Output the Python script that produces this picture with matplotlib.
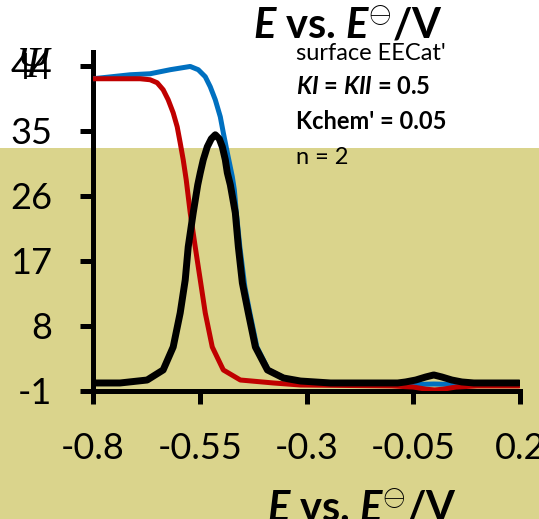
import matplotlib
matplotlib.use("Agg")
import matplotlib.pyplot as plt
from matplotlib.patches import Rectangle

plt.rcParams["font.family"] = ["Lato", "DejaVu Sans"]
plt.rcParams["axes.unicode_minus"] = False
plt.rcParams["mathtext.fontset"] = "custom"
plt.rcParams["mathtext.rm"] = "Lato"
plt.rcParams["mathtext.bf"] = "Lato:bold"
plt.rcParams["mathtext.it"] = "Lato:italic"
plt.rcParams["mathtext.bfit"] = "Lato:bold:italic"

# potential E vs E0 / V and dimensionless current psi
e_blue = [-0.8, -0.7131, -0.6662, -0.6192, -0.5723, -0.5535, -0.5371, -0.5254,
          -0.5136, -0.5019, -0.4948, -0.4854, -0.4737, -0.4690, -0.4643, -0.4561,
          -0.4444, -0.4326, -0.4162, -0.3892, -0.3516, -0.3117, -0.2437, -0.0864,
          -0.0019, 0.0920, 0.1977]
psi_blue = [42.20, 42.75, 42.89, 43.45, 43.90, 43.45, 42.48, 41.09,
            39.29, 36.94, 34.72, 31.95, 28.63, 26.83, 23.65, 18.94,
            13.40, 9.80, 5.09, 1.91, 0.80, 0.25, -0.03, -0.17,
            -0.03, -0.17, -0.17]

e_red = [-0.8, -0.6897, -0.6662, -0.6498, -0.6357, -0.6239, -0.6122, -0.6028,
         -0.5958, -0.5887, -0.5817, -0.5723, -0.5606, -0.5488, -0.5371, -0.5207,
         -0.4948, -0.4549, -0.3775, -0.3141, -0.1, -0.05, -0.02, 0.0,
         0.02, 0.05, 0.1, 0.1977]
psi_red = [42.20, 42.20, 42.06, 41.65, 40.68, 39.29, 37.49, 35.55,
           33.34, 30.98, 28.22, 23.65, 18.94, 14.37, 9.80, 5.09,
           1.91, 0.52, 0.11, -0.17, -0.3, -0.45, -0.75, -0.85,
           -0.75, -0.45, -0.3, -0.3]

e_black = [-0.8, -0.7366, -0.6732, -0.6357, -0.6122, -0.5958, -0.5840, -0.5770,
           -0.5653, -0.5547, -0.5488, -0.5418, -0.5324, -0.5230, -0.5136, -0.5042,
           -0.4972, -0.4901, -0.4854, -0.4784, -0.4667, -0.4596, -0.4502, -0.4362,
           -0.4197, -0.3915, -0.3540, -0.3141, -0.2437, -0.0864, -0.068, -0.0441,
           -0.0207, -0.0019, 0.0169, 0.0404, 0.0638, 0.0920, 0.1977]
psi_black = [0.11, 0.11, 0.52, 1.91, 5.09, 9.80, 14.37, 18.94,
             23.65, 27.52, 29.18, 30.98, 32.78, 33.89, 34.45, 33.89,
             32.78, 30.98, 29.18, 27.52, 23.65, 18.94, 13.95, 9.80,
             5.09, 1.91, 0.80, 0.38, 0.11, 0.11, 0.25, 0.52,
             0.94, 1.22, 0.94, 0.52, 0.25, 0.11, 0.11]

xticks = [-0.8, -0.55, -0.3, -0.05, 0.2]
xtick_labels = ["-0.8", "-0.55", "-0.3", "-0.05", "0.2"]
yticks = [-1, 8, 17, 26, 35, 44]
ytick_labels = ["-1", "8", "17", "26", "35", "44"]

notes = ["surface EECat'", r"$\mathbfit{KI}$ = $\mathbfit{KII}$ = 0.5", "Kchem' = 0.05", "n = 2"]
note_weights = ["normal", "bold", "bold", "normal"]

W, H = 539, 519
fig = plt.figure(figsize=(W / 100, H / 100), dpi=100, facecolor="#dad48c")
# white band at top, behind everything
fig.patches.append(Rectangle((0, 1 - 148 / H), 1, 148 / H, transform=fig.transFigure,
                             facecolor="white", edgecolor="none", zorder=-10))

ax = fig.add_axes([93 / W, 1 - 391 / H, (520 - 93) / W, (391 - 52) / H])
ax.set_facecolor("none")
ax.plot(e_blue, psi_blue, color="#0070c0", lw=3.6, solid_capstyle="round",
        solid_joinstyle="round", zorder=3)
ax.plot(e_red, psi_red, color="#c00000", lw=3.6, solid_capstyle="round",
        solid_joinstyle="round", zorder=4)
ax.plot(e_black, psi_black, color="black", lw=5, solid_capstyle="round",
        solid_joinstyle="round", zorder=5)

ax.set_xlim(-0.8, 0.2)
ax.set_ylim(-1, 45.9)
ax.set_xticks(xticks)
ax.set_xticklabels(xtick_labels)
ax.set_yticks(yticks)
ax.set_yticklabels(ytick_labels)
for s in ["top", "right"]:
    ax.spines[s].set_visible(False)
for s in ["left", "bottom"]:
    ax.spines[s].set_linewidth(3.6)
ax.tick_params(axis="both", direction="out", length=9.5, width=3.6, labelsize=26, pad=20)

# y label sits on top of the highest tick label
fig.text(32 / W, 1 - 66 / H, "Ψ", family="Liberation Serif", style="italic",
         fontsize=32, ha="center", va="center")

title = r"$\mathbfit{E}$ vs. $\mathbfit{E}^{\mathbf{\ominus}}$/V"
fig.text(348 / W, 1 - 38 / H, title, fontsize=30, fontweight="bold",
         ha="center", va="baseline")
fig.text(362 / W, 1 - 521 / H, title, fontsize=30, fontweight="bold",
         ha="center", va="baseline")

for k, (t, wgt) in enumerate(zip(notes, note_weights)):
    fig.text(296 / W, 1 - (60 + 34.5 * k) / H, t, fontsize=17, fontweight=wgt,
             ha="left", va="baseline")

fig.savefig("out.png", dpi=100, facecolor=fig.get_facecolor())
